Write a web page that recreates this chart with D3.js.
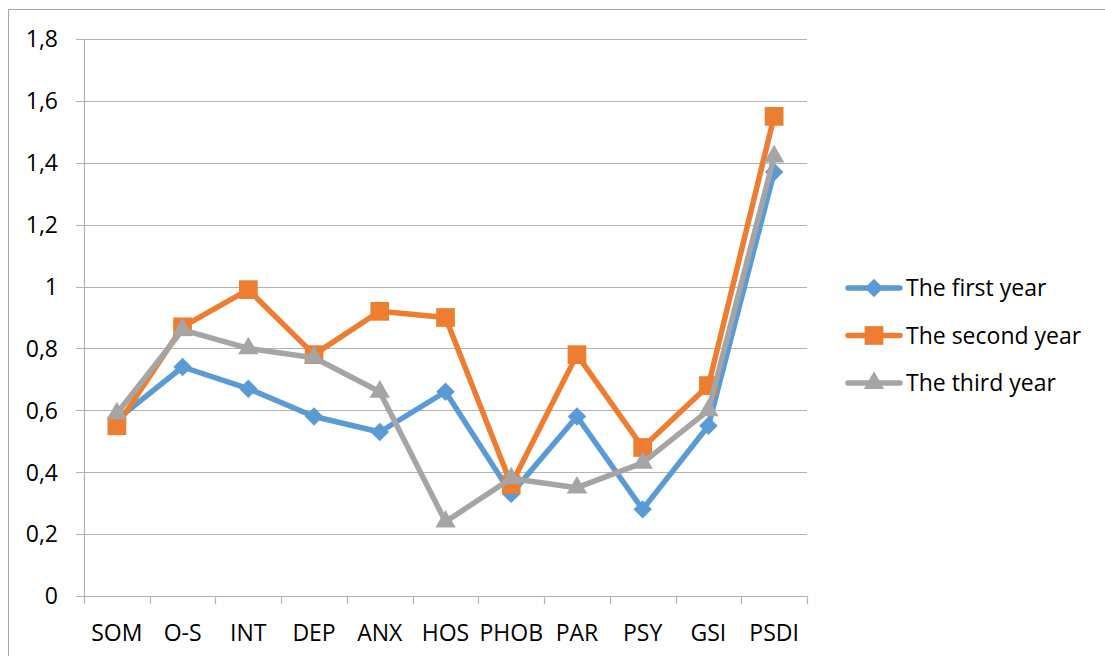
<!DOCTYPE html>
<html>
<head>
<meta charset="utf-8">
<script src="https://cdn.jsdelivr.net/npm/d3@7"></script>
<style>
  html, body { margin: 0; padding: 0; background: #fff; }
  svg text { font-family: "Open Sans", "Noto Sans", sans-serif; fill: #000; }
</style>
</head>
<body>
<svg id="chart" width="1105" height="656"></svg>
<script>
const categories = ["SOM", "O-S", "INT", "DEP", "ANX", "HOS", "PHOB", "PAR", "PSY", "GSI", "PSDI"];
const firstYear  = [0.57, 0.74, 0.67, 0.58, 0.53, 0.66, 0.33, 0.58, 0.28, 0.55, 1.37];
const secondYear = [0.55, 0.87, 0.99, 0.78, 0.92, 0.90, 0.36, 0.78, 0.48, 0.68, 1.55];
const thirdYear  = [0.59, 0.86, 0.80, 0.77, 0.66, 0.24, 0.38, 0.35, 0.43, 0.60, 1.42];
const seriesNames = ["The first year", "The second year", "The third year"];
const yTicks = [0, 0.2, 0.4, 0.6, 0.8, 1, 1.2, 1.4, 1.6, 1.8];

// square diamond (rotated square)
const symbolRhombus = {
  draw(context, size) {
    const r = Math.sqrt(size / 2);
    context.moveTo(0, -r);
    context.lineTo(r, 0);
    context.lineTo(0, r);
    context.lineTo(-r, 0);
    context.closePath();
  }
};

const series = [
  { name: seriesNames[0], values: firstYear,  color: "#5B9BD5", symbol: symbolRhombus,    size: 170 },
  { name: seriesNames[1], values: secondYear, color: "#ED7D31", symbol: d3.symbolSquare,  size: 350 },
  { name: seriesNames[2], values: thirdYear,  color: "#A5A5A5", symbol: d3.symbolTriangle, size: 180 }
];

const svg = d3.select("#chart");
const margin = { left: 84, top: 39, right: 807, bottom: 596 };
const fontSize = 23;

// outer chart border
svg.append("rect")
  .attr("x", 8.5).attr("y", 9.5)
  .attr("width", 1110).attr("height", 660)
  .attr("fill", "none").attr("stroke", "#a6a6a6").attr("stroke-width", 1);

const x = d3.scaleBand().domain(categories).range([margin.left, margin.right]).padding(0);
const y = d3.scaleLinear().domain([0, 1.8]).range([margin.bottom, margin.top]);

const fmt = v => (v === 0 || v === 1) ? String(v) : d3.format(".1f")(v).replace(".", ",");

// gridlines
svg.append("g").selectAll("line").data(yTicks).join("line")
  .attr("x1", margin.left - 8).attr("x2", margin.right)
  .attr("y1", d => Math.round(y(d)) + 0.5).attr("y2", d => Math.round(y(d)) + 0.5)
  .attr("stroke", "#b3b3b3").attr("stroke-width", 1.2);

// y axis line
svg.append("line")
  .attr("x1", margin.left + 0.5).attr("x2", margin.left + 0.5)
  .attr("y1", margin.top).attr("y2", margin.bottom)
  .attr("stroke", "#b3b3b3").attr("stroke-width", 1.2);

// y labels
svg.append("g").selectAll("text").data(yTicks).join("text")
  .attr("x", 58).attr("y", d => y(d))
  .attr("dy", "0.36em")
  .attr("text-anchor", "end")
  .attr("font-size", fontSize)
  .text(fmt);

// x tick marks
const bounds = categories.map(c => x(c)).concat([margin.right]);
svg.append("g").selectAll("line").data(bounds).join("line")
  .attr("x1", d => Math.round(d) + 0.5).attr("x2", d => Math.round(d) + 0.5)
  .attr("y1", margin.bottom).attr("y2", margin.bottom + 8)
  .attr("stroke", "#b3b3b3").attr("stroke-width", 1.2);

// x labels
svg.append("g").selectAll("text").data(categories).join("text")
  .attr("x", d => x(d) + x.bandwidth() / 2)
  .attr("y", 641)
  .attr("text-anchor", "middle")
  .attr("font-size", fontSize)
  .text(d => d);

const cx = i => x(categories[i]) + x.bandwidth() / 2;
const line = d3.line().x((d, i) => cx(i)).y(d => y(d));

series.forEach(s => {
  const g = svg.append("g");
  g.append("path")
    .attr("d", line(s.values))
    .attr("fill", "none")
    .attr("stroke", s.color)
    .attr("stroke-width", 5.5)
    .attr("stroke-linejoin", "round")
    .attr("stroke-linecap", "round");
  g.selectAll("path.m").data(s.values).join("path")
    .attr("class", "m")
    .attr("transform", (d, i) => `translate(${cx(i)},${y(d)})`)
    .attr("d", d3.symbol().type(s.symbol).size(s.size))
    .attr("fill", s.color);
});

// legend
const legend = svg.append("g");
series.forEach((s, i) => {
  const ly = 288 + i * 47.5;
  legend.append("line")
    .attr("x1", 848).attr("x2", 900)
    .attr("y1", ly).attr("y2", ly)
    .attr("stroke", s.color).attr("stroke-width", 5.5)
    .attr("stroke-linecap", "round");
  legend.append("path")
    .attr("transform", `translate(874,${ly})`)
    .attr("d", d3.symbol().type(s.symbol).size(s.size))
    .attr("fill", s.color);
  legend.append("text")
    .attr("x", 906).attr("y", ly)
    .attr("dy", "0.36em")
    .attr("font-size", fontSize)
    .text(s.name);
});
</script>
</body>
</html>
